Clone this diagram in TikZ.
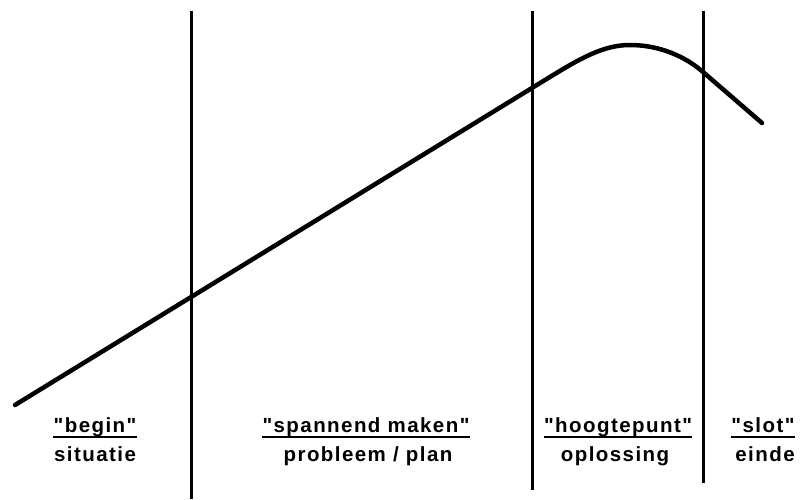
\documentclass[tikz,border=0pt]{standalone}
\usepackage{fontspec}
\setmainfont{Liberation Sans}[LetterSpace=7,Ligatures=TeXOff]
\begin{document}
\begin{tikzpicture}[x=1pt,y=-1pt,
  divider/.style={line width=3pt,black},
  arc/.style={line width=4.5pt,black,line cap=round,line join=round},
  head/.style={anchor=base,inner sep=0pt,font=\fontsize{20.5}{24}\selectfont\bfseries},
  sub/.style={anchor=base,inner sep=0pt,font=\fontsize{20.5}{24}\selectfont\bfseries},
  uline/.style={line width=1.2pt,black}]
\useasboundingbox (0,0) rectangle (803,499);
% dividers
\draw[divider] (191,11) -- (191,499);
\draw[divider] (532,11) -- (532,490);
\draw[divider] (703,11) -- (703,483);
% story arc
\coordinate (start) at (15,405);
\coordinate (rise) at (545,80);
\coordinate (peak) at (630,45);
\coordinate (fall) at (703,72);
\coordinate (end) at (762,123);
\draw[arc] (start) -- (rise) .. controls (580,58.5) and (603,45) .. (peak)
  .. controls (660,45) and (686,57) .. (fall) -- (end);
% labels
\node[head] (h1) at (95,432) {"begin"};
\node[sub]  (s1) at (95,461) {situatie};
\node[head] (h2) at (366,432) {"spannend maken"};
\node[sub]  (s2) at (368,461) {probleem / plan};
\node[head] (h3) at (618,432) {"hoogtepunt"};
\node[sub]  (s3) at (615,461) {oplossing};
\node[head] (h4) at (763,432) {"slot"};
\node[sub]  (s4) at (765,461) {einde};
\foreach \h in {h1,h2,h3,h4}
  \draw[uline] ([yshift=-5pt]\h.base west) -- ([yshift=-5pt]\h.base east);
\end{tikzpicture}
\end{document}
